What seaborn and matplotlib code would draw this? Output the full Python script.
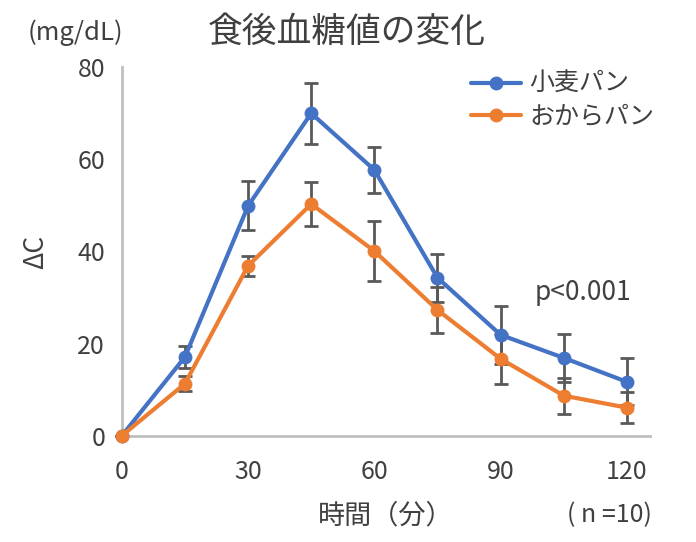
import matplotlib
matplotlib.use("Agg")
import matplotlib.pyplot as plt
import seaborn as sns
import pandas as pd

# 時間（分）
minutes = [0, 15, 30, 45, 60, 75, 90, 105, 120]
# 小麦パン
wheat = [0, 17.1, 49.9, 70.0, 57.7, 34.3, 21.9, 16.9, 11.7]
wheat_err = [0, 2.3, 5.3, 6.6, 4.9, 5.2, 6.3, 5.2, 5.1]
# おからパン
okara = [0, 11.3, 36.9, 50.3, 40.1, 27.3, 16.7, 8.7, 6.1]
okara_err = [0, 1.6, 2.2, 4.7, 6.6, 5.0, 5.4, 3.9, 3.3]

series = ["小麦パン", "おからパン"]
colors = {"小麦パン": "#4472C4", "おからパン": "#ED7D31"}

df = pd.DataFrame({
    "時間": minutes * 2,
    "ΔC": wheat + okara,
    "err": wheat_err + okara_err,
    "パン": [series[0]] * len(minutes) + [series[1]] * len(minutes),
})

sns.set_style("white")
plt.rcParams['font.family'] = ['Noto Sans CJK JP', 'DejaVu Sans']

fig = plt.figure(figsize=(6.96, 5.42), dpi=100)
ax = fig.add_axes([0.175, 0.196, 0.759, 0.68])

grey = "#595959"
for name in series:
    sub = df[df["パン"] == name]
    ax.errorbar(sub["時間"], sub["ΔC"], yerr=sub["err"], fmt="none",
                ecolor=grey, elinewidth=2, capsize=5, capthick=2, zorder=2,
                clip_on=False)

sns.lineplot(data=df, x="時間", y="ΔC", hue="パン", hue_order=series,
             palette=colors, marker="o", markersize=10, markeredgewidth=0,
             linewidth=3, ax=ax, zorder=3, clip_on=False, errorbar=None)

ax.set_xlim(0, 125.5)
ax.set_ylim(0, 80)
ax.set_xticks([0, 30, 60, 90, 120])
ax.set_yticks([0, 20, 40, 60, 80])

for side in ["top", "right"]:
    ax.spines[side].set_visible(False)
for side in ["left", "bottom"]:
    ax.spines[side].set_color("#BFBFBF")
    ax.spines[side].set_linewidth(2)
ax.tick_params(axis="both", direction="in", length=8, width=2, color="#BFBFBF",
               labelsize=18, labelcolor="#404040")
ax.tick_params(axis="x", pad=17)
ax.tick_params(axis="y", pad=12)

ax.set_xlabel("時間（分）", fontsize=19.5, color="#404040", labelpad=12)
ax.set_ylabel("ΔC", fontsize=19, color="#404040", labelpad=20)

fig.text(0.498, 0.94, "食後血糖値の変化", fontsize=25, color="#404040",
         ha="center", va="center")
fig.text(0.108, 0.94, "(mg/dL)", fontsize=18.5, color="#404040",
         ha="center", va="center")
fig.text(0.838, 0.46, "p<0.001", fontsize=19, color="#404040",
         ha="center", va="center")
fig.text(0.876, 0.05, "( n =10)", fontsize=18, color="#404040",
         ha="center", va="center")

leg = ax.legend(loc="upper right", bbox_to_anchor=(1.05, 1.05), frameon=False,
                fontsize=18, handlelength=2.0, handletextpad=0.3,
                labelspacing=0.25, labelcolor="#404040")

fig.savefig("out.png", dpi=100)
